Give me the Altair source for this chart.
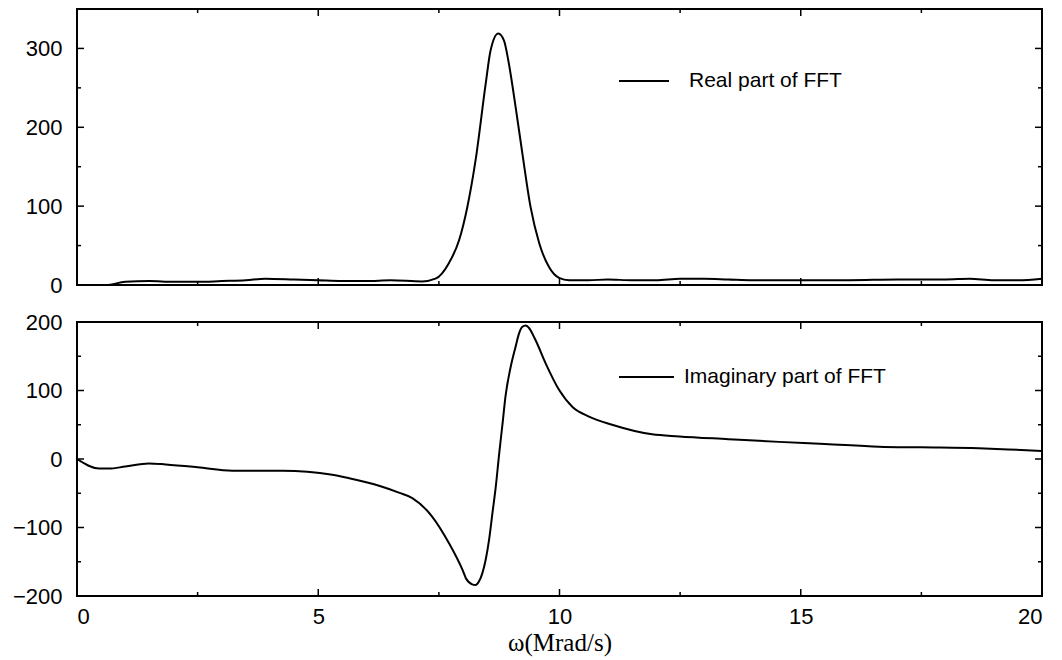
import altair as alt
import pandas as pd

# ---- data ----
real_x = [0.0, 0.6, 1.0, 1.5, 2.0, 2.5, 3.0, 3.5, 3.9, 4.5, 5.0, 5.5, 6.0, 6.5, 7.15, 7.43,
          7.71, 7.92, 8.09, 8.26, 8.47, 8.57, 8.73, 8.85, 8.95, 9.09, 9.23, 9.40, 9.58, 9.78,
          9.99, 10.2, 10.6, 11.0, 11.5, 12.0, 12.5, 13.0, 13.5, 14.0, 15.0, 16.0, 17.0, 18.0,
          18.5, 19.0, 19.5, 20.0]
real_y = [0, 0, 4, 5, 4, 4, 5, 6, 8, 7, 6, 5, 5, 6, 4.5, 8,
          28, 57, 99, 158, 255, 297, 319, 310, 281, 226, 167, 99, 53, 23,
          9, 6, 6, 7, 6, 6, 8, 8, 7, 6, 6, 6, 7, 7,
          8, 6, 6, 8]

imag_x = [0.0, 0.46, 0.66, 1.0, 1.49, 1.84, 2.5, 3.22, 4.26, 5.29, 5.64, 6.26, 6.67, 6.95,
          7.36, 7.71, 7.99, 8.06, 8.19, 8.26, 8.33, 8.40, 8.47, 8.54, 8.61, 8.68, 8.75, 8.82,
          8.88, 8.99, 9.09, 9.16, 9.23, 9.30, 9.36, 9.50, 9.71, 9.99, 10.27, 10.61, 11.09,
          11.92, 12.48, 13.5, 14.55, 15.5, 16.62, 17.5, 18.69, 19.3, 20.0]
imag_y = [0, -14, -14, -11, -6.5, -8, -12, -17, -17, -23, -28, -39, -49, -57,
          -84, -123, -162, -174, -183, -184, -179, -167, -147, -118, -79, -40, 8, 52,
          91, 135, 164, 183, 193, 195, 192, 174, 140, 101, 76, 62, 50,
          36, 33, 29, 25, 22, 18, 17, 15.6, 14, 11.7]

x_major = [0, 5, 10, 15, 20]
x_minor = [2.5, 7.5, 12.5, 17.5]
top_major = [0, 100, 200, 300]
top_minor = [50, 150, 250]
bot_major = [-200, -100, 0, 100, 200]
bot_minor = [-150, -50, 50, 150]

W = 965
H_TOP = 276
H_BOT = 274
MAJ = 7
MIN = 4


def panel(xs, ys, ydom, ymaj, ymin, h, label, lx0, lx1, ly, tx, bottom_axis):
    df = pd.DataFrame({"x": xs, "y": ys})
    xscale = alt.Scale(domain=[0, 20], nice=False, zero=False)
    yscale = alt.Scale(domain=ydom, nice=False, zero=False)
    if bottom_axis:
        xaxis = alt.Axis(values=x_major, title="ω(Mrad/s)", ticks=False, tickSize=0,
                         domain=False, grid=False, labelFont="Liberation Sans",
                         labelFontSize=22, labelPadding=10, labelColor="black",
                         titleFont="Liberation Serif", titleFontSize=25,
                         titleFontWeight="normal", titlePadding=3, titleColor="black")
    else:
        xaxis = None
    yaxis = alt.Axis(values=ymaj, title=None, ticks=False, tickSize=0, domain=False,
                     grid=False, labelFont="Liberation Sans", labelFontSize=22,
                     labelPadding=15, labelColor="black", minExtent=65, maxExtent=65)

    line = alt.Chart(df).mark_line(color="black", strokeWidth=2, interpolate="monotone").encode(
        x=alt.X("x:Q", scale=xscale, axis=xaxis),
        y=alt.Y("y:Q", scale=yscale, axis=yaxis),
    )
    layers = [line]

    def yticks(vals, length):
        d = pd.DataFrame({"v": vals})
        left = alt.Chart(d).mark_rule(color="black", strokeWidth=1.5).encode(
            y=alt.Y("v:Q", scale=yscale), x=alt.value(0), x2=alt.value(length))
        right = alt.Chart(d).mark_rule(color="black", strokeWidth=1.5).encode(
            y=alt.Y("v:Q", scale=yscale), x=alt.value(W), x2=alt.value(W - length))
        return [left, right]

    def xticks(vals, length):
        d = pd.DataFrame({"v": vals})
        bot = alt.Chart(d).mark_rule(color="black", strokeWidth=1.5).encode(
            x=alt.X("v:Q", scale=xscale), y=alt.value(h), y2=alt.value(h - length))
        top = alt.Chart(d).mark_rule(color="black", strokeWidth=1.5).encode(
            x=alt.X("v:Q", scale=xscale), y=alt.value(0), y2=alt.value(length))
        return [bot, top]

    layers += yticks(ymaj, MAJ) + yticks(ymin, MIN) + xticks(x_major, MAJ) + xticks(x_minor, MIN)

    # frame drawn as rules at the scale extremes
    fx = pd.DataFrame({"v": [0, 20]})
    fy = pd.DataFrame({"v": ydom})
    layers.append(alt.Chart(fx).mark_rule(color="black", strokeWidth=2).encode(
        x=alt.X("v:Q", scale=xscale)))
    layers.append(alt.Chart(fy).mark_rule(color="black", strokeWidth=2).encode(
        y=alt.Y("v:Q", scale=yscale)))

    leg_line = alt.Chart(pd.DataFrame({"k": [label]})).mark_rule(color="black", strokeWidth=2).encode(
        x=alt.value(lx0), x2=alt.value(lx1), y=alt.value(ly))
    leg_text = alt.Chart(pd.DataFrame({"k": [label]})).mark_text(
        align="left", baseline="middle", font="Liberation Sans", fontSize=21, color="black"
    ).encode(x=alt.value(tx), y=alt.value(ly), text="k:N")
    layers += [leg_line, leg_text]

    return alt.layer(*layers).properties(
        width=W, height=h,
        view=alt.ViewBackground(stroke="black", strokeWidth=2, fill="white"),
    )


top = panel(real_x, real_y, [0, 350], top_major, top_minor, H_TOP,
            "Real part of FFT", 542, 592, 72, 612, False)
bot = panel(imag_x, imag_y, [-200, 200], bot_major, bot_minor, H_BOT,
            "Imaginary part of FFT", 542, 597, 55, 607, True)

chart = alt.vconcat(top, bot, spacing=37, bounds="flush").properties(
    padding={"left": 11, "top": 7, "right": 5, "bottom": 5},
    background="white",
).configure_view(stroke="black", strokeWidth=2)

chart.save("out.html", embed_options={"renderer": "svg", "actions": False})
